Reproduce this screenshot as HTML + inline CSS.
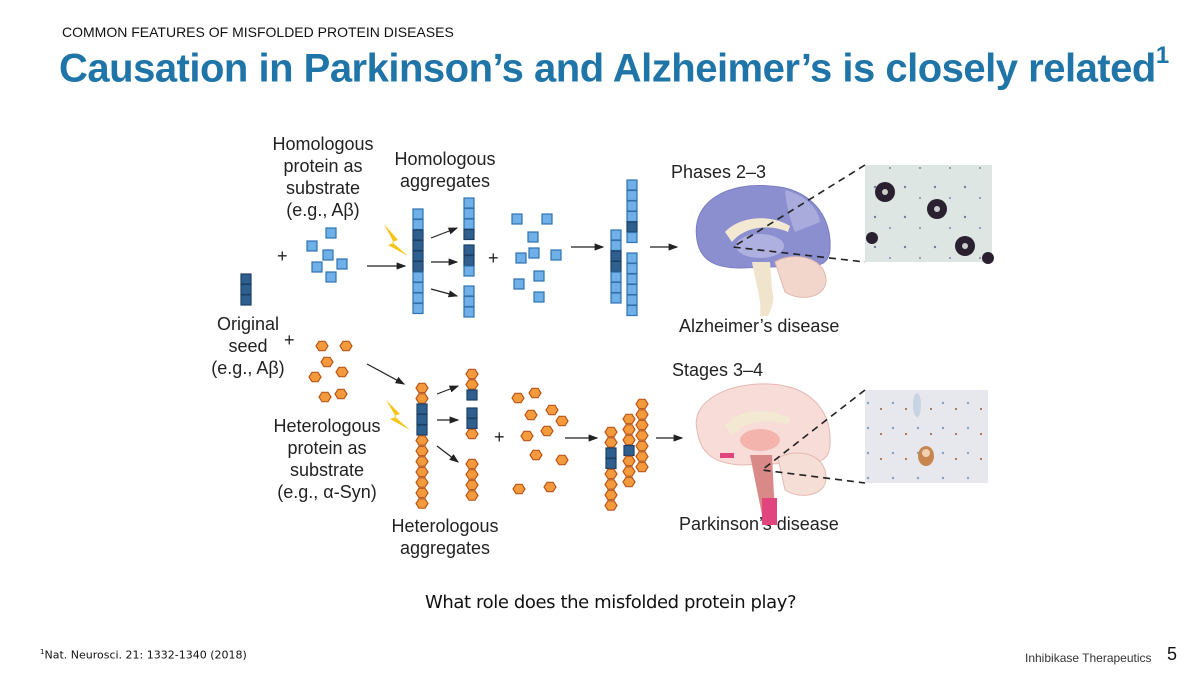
<!DOCTYPE html>
<html><head><meta charset="utf-8"><style>
body{margin:0;width:1200px;height:675px;background:#fff;overflow:hidden;position:relative;font-family:"Liberation Sans",sans-serif}
.t{position:absolute;white-space:nowrap}
svg{position:absolute;left:0;top:0}
svg text{font-family:"Liberation Sans",sans-serif;font-size:18px;fill:#222}
</style></head><body>
<div class="t" style="left:62px;top:24px;font-size:14px;color:#111">COMMON FEATURES OF MISFOLDED PROTEIN DISEASES</div>
<div class="t" style="left:59px;top:46px;font-size:40px;font-weight:bold;color:#1f74a8;letter-spacing:-0.5px">Causation in Parkinson’s and Alzheimer’s is closely related<sup style="font-size:24px;position:relative;top:-4px">1</sup></div>
<div class="t" style="left:425px;top:592px;font-size:18px;color:#111;font-family:'DejaVu Sans','Liberation Sans',sans-serif;letter-spacing:-0.4px">What role does the misfolded protein play?</div>
<div class="t" style="left:40px;top:648px;font-size:11px;color:#111;font-family:'DejaVu Sans','Liberation Sans',sans-serif"><sup style="font-size:7px">1</sup>Nat. Neurosci. 21:  1332-1340 (2018)</div>
<div class="t" style="left:1025px;top:651px;font-size:12px;color:#333">Inhibikase Therapeutics</div>
<div class="t" style="left:1167px;top:644px;font-size:18px;color:#111">5</div>
<svg id="s" width="1200" height="675" viewBox="0 0 1200 675">
<defs><marker id="ar" markerWidth="8" markerHeight="6" refX="7" refY="3" orient="auto"><path d="M0,0L8,3L0,6z" fill="#222"/></marker>
<pattern id="p1" width="30" height="30" patternUnits="userSpaceOnUse"><rect width="30" height="30" fill="#dde6e2"/><circle cx="5" cy="7" r="1.2" fill="#7a7a9a"/><circle cx="20" cy="18" r="1" fill="#8a86a6"/></pattern>
<pattern id="p2" width="25" height="25" patternUnits="userSpaceOnUse"><rect width="25" height="25" fill="#e6e8ee"/><circle cx="6" cy="9" r="1" fill="#9a5a30"/><circle cx="18" cy="3" r="1.2" fill="#8aa0c0"/></pattern></defs>
<g text-anchor="middle">
<text x="323" y="150">Homologous</text><text x="323" y="172">protein as</text><text x="323" y="194">substrate</text><text x="323" y="216">(e.g., Aβ)</text>
<text x="445" y="165">Homologous</text><text x="445" y="187">aggregates</text>
<text x="248" y="330">Original</text><text x="248" y="352">seed</text><text x="248" y="374">(e.g., Aβ)</text>
<text x="327" y="432">Heterologous</text><text x="327" y="454">protein as</text><text x="327" y="476">substrate</text><text x="327" y="498">(e.g., α-Syn)</text>
<text x="445" y="532">Heterologous</text><text x="445" y="554">aggregates</text>
</g>
<text x="671" y="178">Phases 2–3</text>
<text x="679" y="332">Alzheimer’s disease</text>
<text x="672" y="376">Stages 3–4</text>
<text x="679" y="530">Parkinson’s disease</text>
<g font-size="18"><text x="277" y="262">+</text><text x="488" y="264">+</text><text x="284" y="346">+</text><text x="494" y="443">+</text></g>
<g stroke="#222" stroke-width="1.2" marker-end="url(#ar)">
<line x1="367" y1="266" x2="405" y2="266"/><line x1="431" y1="238" x2="457" y2="228"/><line x1="431" y1="262" x2="457" y2="262"/><line x1="431" y1="289" x2="457" y2="296"/>
<line x1="571" y1="247" x2="603" y2="247"/><line x1="650" y1="247" x2="677" y2="247"/>
<line x1="367" y1="364" x2="404" y2="384"/><line x1="437" y1="394" x2="458" y2="386"/><line x1="437" y1="420" x2="458" y2="420"/><line x1="437" y1="446" x2="458" y2="462"/>
<line x1="565" y1="438" x2="597" y2="438"/><line x1="656" y1="438" x2="682" y2="438"/>
</g>
<path d="M384,224 L398,240 L392,242 L408,256 L388,245 L394,243z" fill="#f5c518"/>
<path d="M386,400 L400,414 L394,416 L410,430 L390,419 L396,417z" fill="#f5c518"/>
<path d="M697,240 C690,200 730,182 770,186 C810,188 832,215 830,250 C829,262 822,268 800,266 L740,268 C712,268 700,258 697,240z" fill="#8b8fd0" stroke="#7a7ec0"/>
<path d="M785,190 C805,195 818,208 820,222 L795,232 C788,215 786,200 785,190z" fill="#a9abdc"/>
<path d="M725,232 C740,216 770,214 790,226 L788,232 C770,224 745,226 732,242z" fill="#f3e9d2"/>
<ellipse cx="760" cy="246" rx="24" ry="12" fill="#aeb0df"/>
<path d="M775,262 C790,252 825,255 826,280 C826,298 800,302 785,292z" fill="#f2d6cc" stroke="#e0b8ac"/>
<path d="M752,262 L770,262 L772,290 C775,300 772,308 768,316 L760,316 C762,300 756,285 752,262z" fill="#f1e4cc"/>
<path d="M697,430 C690,400 730,382 770,384 C810,386 832,410 830,445 C829,460 820,464 800,463 L740,465 C712,463 700,452 697,430z" fill="#f7dcd8" stroke="#e5b8b2"/>
<path d="M725,425 C740,408 770,408 790,418 L788,425 C770,418 745,420 732,436z" fill="#f3e9d2"/>
<ellipse cx="760" cy="440" rx="20" ry="11" fill="#f2b4ac"/>
<path d="M778,458 C795,448 826,452 826,478 C826,496 800,500 785,490z" fill="#f5ded6" stroke="#e3bbb0"/>
<path d="M750,455 L772,455 L774,495 L776,520 L764,525 L758,495z" fill="#d98a88"/>
<rect x="762" y="498" width="15" height="27" fill="#e0457e"/>
<rect x="720" y="453" width="14" height="5" fill="#e0457e"/>
<rect x="865" y="165" width="127" height="97" fill="url(#p1)"/>
<g fill="#2a2030"><circle cx="885" cy="192" r="10"/><circle cx="937" cy="209" r="10"/><circle cx="965" cy="246" r="10"/><circle cx="872" cy="238" r="6"/><circle cx="988" cy="258" r="6"/></g>
<g fill="#ccc"><circle cx="885" cy="192" r="3"/><circle cx="937" cy="209" r="3"/><circle cx="965" cy="246" r="3"/></g>
<rect x="865" y="390" width="123" height="93" fill="url(#p2)"/>
<ellipse cx="917" cy="405" rx="4" ry="12" fill="#c8d4e4"/>
<ellipse cx="926" cy="456" rx="8" ry="10" fill="#c78550"/><circle cx="926" cy="453" r="4" fill="#f0d0b0"/>
<g stroke="#222" stroke-width="1.6" stroke-dasharray="7,5" fill="none">
<path d="M865,165 L733,247 L865,262"/><path d="M865,390 L762,470 L865,483"/></g>
<g id="g"></g>
</svg>
<script>
var g=document.getElementById('g'),h='';
function sq(x,y,d){h+='<rect x="'+(x-5)+'" y="'+(y-5)+'" width="10" height="10" fill="'+(d?'#2f5f8f':'#6fb0e8')+'" stroke="'+(d?'#1c3f66':'#2f72b0')+'" stroke-width="1.2"/>';}
function hx(x,y){var r=6,p=[];for(var i=0;i<6;i++){var a=Math.PI/3*i;p.push((x+r*Math.cos(a)).toFixed(1)+','+(y+r*0.9*Math.sin(a)).toFixed(1));}h+='<polygon points="'+p.join(' ')+'" fill="#f39a3c" stroke="#b8561a" stroke-width="1.2"/>';}
function col(x,y0,s){for(var i=0;i<s.length;i++){var c=s[i],y=y0+i*10.5;if(c=='h')hx(x,y);else sq(x,y,c=='d');}}
col(246,279,'ddd');
[[331,233],[312,246],[328,255],[342,264],[317,267],[331,277]].forEach(function(p){sq(p[0],p[1]);});
col(418,214,'llddddllll');
col(469,203,'llld');col(469,250,'ddl');col(469,291,'lll');
[[517,219],[547,219],[533,237],[521,258],[534,253],[556,255],[539,276],[519,284],[539,297]].forEach(function(p){sq(p[0],p[1]);});
col(616,235,'llddlll');col(632,185,'lllldl');col(632,258,'llllll');
[[322,346],[346,346],[327,362],[342,372],[315,377],[325,397],[341,394]].forEach(function(p){hx(p[0],p[1]);});
col(422,388,'hhdddhhhhhhh');
col(472,374,'hhd');col(472,413,'ddh');col(472,464,'hhhh');
[[518,398],[535,393],[531,415],[552,410],[562,421],[547,431],[527,436],[536,455],[562,460],[519,489],[550,487]].forEach(function(p){hx(p[0],p[1]);});
col(611,432,'hhddhhhh');col(629,419,'hhhdhhh');col(642,404,'hhhhhhh');
g.innerHTML=h;
</script>
</body></html>
